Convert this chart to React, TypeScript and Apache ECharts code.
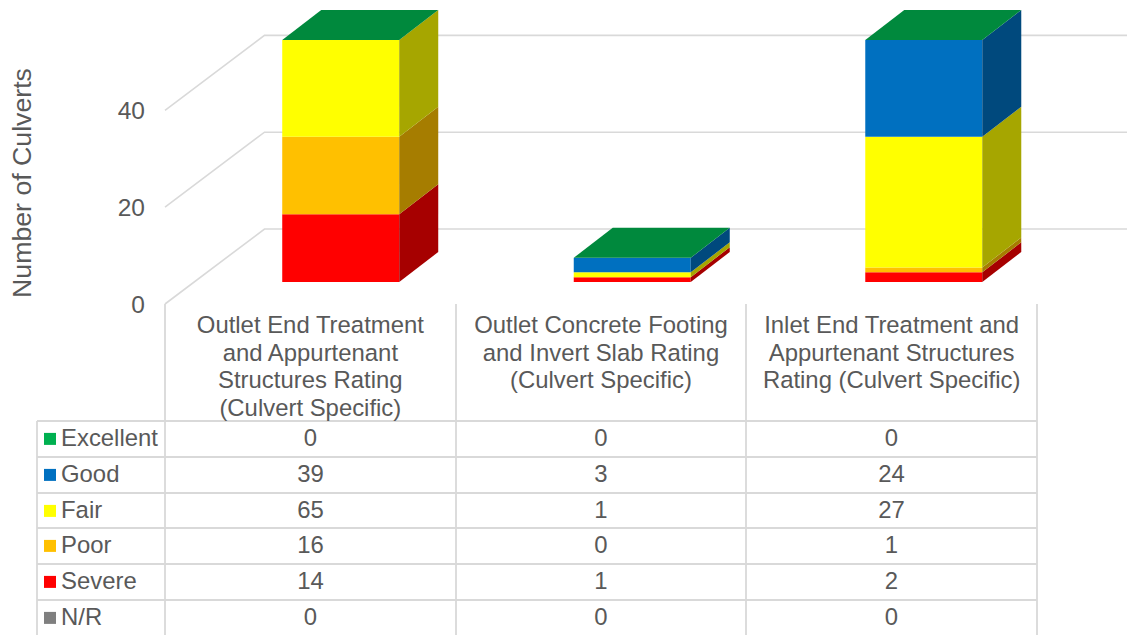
import React, { useEffect, useRef } from "react";
import * as echarts from "echarts";

const categories = [
  "Outlet End Treatment\nand Appurtenant\nStructures Rating\n(Culvert Specific)",
  "Outlet Concrete Footing\nand Invert Slab Rating\n(Culvert Specific)",
  "Inlet End Treatment and\nAppurtenant Structures\nRating (Culvert Specific)",
];
const ratings = ["Excellent", "Good", "Fair", "Poor", "Severe", "N/R"];
const excellent = [0, 0, 0];
const good = [39, 3, 24];
const fair = [65, 1, 27];
const poor = [16, 0, 1];
const severe = [14, 1, 2];
const notRated = [0, 0, 0];
const tableRows = [excellent, good, fair, poor, severe, notRated];
const frontColors = ["#00B050", "#0070C0", "#FFFF00", "#FFC000", "#FF0000", "#7F7F7F"];
const sideColors = ["#008A3E", "#00497D", "#A6A600", "#A67D00", "#A60000", "#535353"];
const topColor = "#00893D";
const wallTicks = [0, 20, 40];
const axisMax = 50;

const TEXT = "#595959";
const LINE = "#D9D9D9";
const FONT = "Liberation Sans, Arial, sans-serif";
const W = 1127;
const H = 635;
const GRID_L = 165;
const GRID_R = 1037;
const GRID_T = 62;
const GRID_B = 304;
const TABLE_L = 37;
const rowTops = [421, 457, 493, 528, 564, 600];
const colLines = [165, 456, 746, 1037];

// 3D projection offsets
const WALL_DX = 99.5;
const WALL_DY = -75;
const BAR_DX = 30.4;
const BAR_DRIFT = 0.85;
const BAR_DY = -22;
const BAR_W = 117;
const DEPTH_DX = 39;
const DEPTH_DY = -30;
const TABLE_FONT = 23.9;

function buildBarSeries() {
  // stack from the bottom of the table upward
  const order = [5, 4, 3, 2, 1, 0];
  const cum = categories.map(() => 0);
  return order.map((ri) => {
    const data = categories.map((_, ci) => {
      const start = cum[ci];
      cum[ci] += tableRows[ri][ci];
      return [ci, Math.min(start, axisMax), Math.min(cum[ci], axisMax), cum[ci] > 0 ? 1 : 0];
    });
    return {
      type: "custom",
      name: ratings[ri],
      silent: true,
      encode: { x: 0, y: [1, 2] },
      data,
      renderItem: (_p: any, api: any) => {
        const c = api.value(0);
        const a = api.coord([c, api.value(1)]);
        const b = api.coord([c, api.value(2)]);
        const x0 = a[0] + BAR_DX + c * BAR_DRIFT - BAR_W / 2;
        const x1 = x0 + BAR_W;
        const y0 = a[1] + BAR_DY;
        const y1 = b[1] + BAR_DY;
        const children: any[] = [];
        if (y0 - y1 > 0.01) {
          children.push({
            type: "polygon",
            shape: { points: [[x0, y0], [x1, y0], [x1, y1], [x0, y1]] },
            style: { fill: frontColors[ri] },
          });
          children.push({
            type: "polygon",
            shape: {
              points: [
                [x1, y0],
                [x1 + DEPTH_DX, y0 + DEPTH_DY],
                [x1 + DEPTH_DX, y1 + DEPTH_DY],
                [x1, y1],
              ],
            },
            style: { fill: sideColors[ri] },
          });
        }
        if (ri === 0) {
          children.push({
            type: "polygon",
            shape: {
              points: [
                [x0, y1],
                [x1, y1],
                [x1 + DEPTH_DX, y1 + DEPTH_DY],
                [x0 + DEPTH_DX, y1 + DEPTH_DY],
              ],
            },
            style: { fill: topColor },
          });
        }
        return { type: "group", children };
      },
    };
  });
}

const wallSeries = {
  type: "custom",
  silent: true,
  encode: { y: 1 },
  data: wallTicks.map((t) => [0, t]),
  renderItem: (p: any, api: any) => {
    const y = api.coord([0, api.value(1)])[1];
    const x = p.coordSys.x;
    return {
      type: "polyline",
      shape: {
        points: [
          [x, y],
          [x + WALL_DX, y + WALL_DY],
          [W, y + WALL_DY],
        ],
      },
      style: { fill: "none", stroke: LINE, lineWidth: 1.6 },
    };
  },
};

function tableGraphics() {
  const els: any[] = [];
  const line = (x1: number, y1: number, x2: number, y2: number) =>
    els.push({
      type: "line",
      silent: true,
      shape: { x1, y1, x2, y2 },
      style: { stroke: LINE, lineWidth: 1.8 },
    });
  rowTops.forEach((y) => line(TABLE_L, y, GRID_R, y));
  line(TABLE_L, rowTops[0], TABLE_L, H);
  colLines.forEach((x) => line(x, GRID_B, x, H));
  const rowH = 35.8;
  ratings.forEach((r, i) => {
    const cy = rowTops[i] + rowH / 2;
    els.push({
      type: "rect",
      silent: true,
      shape: { x: 44, y: cy - 6, width: 12, height: 12 },
      style: { fill: frontColors[i] },
    });
    els.push({
      type: "text",
      silent: true,
      x: 61,
      y: cy - 1.4,
      style: {
        text: r,
        fill: TEXT,
        font: `${TABLE_FONT}px ${FONT}`,
        textAlign: "left",
        textVerticalAlign: "middle",
      },
    });
    tableRows[i].forEach((v, c) => {
      els.push({
        type: "text",
        silent: true,
        x: (colLines[c] + colLines[c + 1]) / 2,
        y: cy - 1.4,
        style: {
          text: String(v),
          fill: TEXT,
          font: `${TABLE_FONT}px ${FONT}`,
          textAlign: "center",
          textVerticalAlign: "middle",
        },
      });
    });
  });
  return els;
}

export default function App() {
  const ref = useRef<HTMLDivElement>(null);
  useEffect(() => {
    document.body.style.margin = "0";
    const chart = echarts.init(ref.current!, undefined, { renderer: "svg" });
    chart.setOption({
      animation: false,
      backgroundColor: "#FFFFFF",
      textStyle: { fontFamily: FONT },
      grid: {
        left: GRID_L,
        top: GRID_T,
        width: GRID_R - GRID_L,
        height: GRID_B - GRID_T,
        containLabel: false,
        outerBoundsMode: "none",
      },
      xAxis: {
        type: "category",
        data: categories,
        axisLine: { show: false },
        axisTick: { show: false },
        splitLine: { show: false },
        axisLabel: {
          interval: 0,
          margin: 7,
          color: TEXT,
          fontSize: TABLE_FONT,
          lineHeight: 27.5,
          fontFamily: FONT,
          align: "center",
          verticalAlign: "top",
        },
      },
      yAxis: {
        type: "value",
        min: 0,
        max: axisMax,
        interval: 20,
        name: "Number of Culverts",
        nameLocation: "middle",
        nameRotate: 90,
        nameGap: 130,
        nameTextStyle: { color: TEXT, fontSize: 26.7, fontFamily: FONT },
        axisLine: { show: false },
        axisTick: { show: false },
        splitLine: { show: false },
        axisLabel: {
          margin: 20,
          color: TEXT,
          fontSize: 24.5,
          fontFamily: FONT,
          showMaxLabel: false,
        },
      },
      series: [wallSeries, ...buildBarSeries()],
      graphic: { elements: tableGraphics() },
    });
    return () => chart.dispose();
  }, []);
  return <div ref={ref} style={{ position: "fixed", left: 0, top: 0, width: W, height: H }} />;
}
